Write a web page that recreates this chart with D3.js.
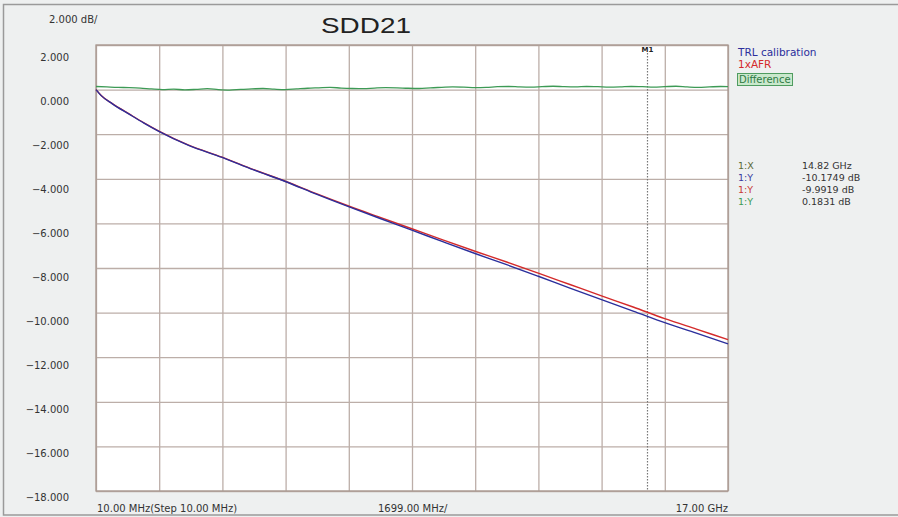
<!DOCTYPE html>
<html>
<head>
<meta charset="utf-8">
<script src="https://cdn.jsdelivr.net/npm/d3@7"></script>
<style>
html,body{margin:0;padding:0;background:#eef0f0;}
svg{display:block;}
</style>
</head>
<body>
<svg id="chart" width="898" height="517"></svg>
<script>
// ---------- data ----------
const title = "SDD21";
const scaleLabel = "2.000 dB/";
const yTicks = [2, 0, -2, -4, -6, -8, -10, -12, -14, -16, -18];
const xStartLabel = "10.00 MHz(Step 10.00 MHz)";
const xMidLabel = "1699.00 MHz/";
const xEndLabel = "17.00 GHz";
const xDomainGHz = [0.01, 17.0];
const seriesNames = ["TRL calibration", "1xAFR", "Difference"];

// frequency (GHz) for the two main traces
const freqMain = [0.01, 0.15, 0.45, 0.9, 1.3, 1.7, 2.5, 3.4, 4.25, 5.1, 5.95, 6.8, 7.65, 8.5, 9.35, 10.2, 11.05, 11.9, 12.75, 13.6, 14.45, 15.3, 16.15, 17.0];
const trlValues = [0, -0.27, -0.64, -1.1, -1.5, -1.87, -2.5, -3.04, -3.6, -4.12, -4.7, -5.25, -5.78, -6.3, -6.83, -7.35, -7.85, -8.37, -8.9, -9.42, -9.93, -10.45, -10.92, -11.4];
const afrValues = [0, -0.26, -0.63, -1.09, -1.49, -1.86, -2.49, -3.03, -3.59, -4.11, -4.68, -5.22, -5.73, -6.24, -6.75, -7.25, -7.73, -8.23, -8.74, -9.25, -9.75, -10.27, -10.74, -11.21];

// difference trace
const freqDiff = [0.01, 0.3, 0.6, 0.9, 1.2, 1.5, 1.8, 2.1, 2.4, 2.7, 3.0, 3.3, 3.6, 3.9, 4.2, 4.5, 4.8, 5.1, 5.4, 5.7, 6.0, 6.3, 6.6, 6.9, 7.2, 7.5, 7.8, 8.1, 8.4, 8.7, 9.0, 9.3, 9.6, 9.9, 10.2, 10.5, 10.8, 11.1, 11.4, 11.7, 12.0, 12.3, 12.6, 12.9, 13.2, 13.5, 13.8, 14.1, 14.4, 14.7, 15.0, 15.3, 15.6, 15.9, 16.2, 16.5, 16.8, 17.0];
const diffValues = [0.14, 0.12, 0.10, 0.09, 0.07, 0.03, 0.00, 0.02, -0.01, 0.01,
                    0.04, 0.00, -0.02, 0.01, 0.03, 0.05, 0.02, 0.00, 0.03, 0.06,
                    0.08, 0.10, 0.07, 0.05, 0.04, 0.07, 0.09, 0.08, 0.06, 0.05,
                    0.08, 0.10, 0.12, 0.11, 0.09, 0.10, 0.13, 0.14, 0.12, 0.11,
                    0.13, 0.15, 0.13, 0.12, 0.14, 0.13, 0.11, 0.12, 0.14, 0.13,
                    0.11, 0.13, 0.15, 0.12, 0.10, 0.12, 0.14, 0.13];

// marker
const markerName = "M1";
const markerFreq = 14.82;
const markerRows = [
  {label: "1:X", value: "14.82 GHz"},
  {label: "1:Y", value: "-10.1749 dB"},
  {label: "1:Y", value: "-9.9919 dB"},
  {label: "1:Y", value: "0.1831 dB"}
];

// ---------- layout ----------
const svg = d3.select("#chart");
const L = 96, R = 728, T = 45, B = 491;
const colors = {trl: "#2b2f9c", afr: "#d42a2a", diff: "#3d9a55"};
const rowColors = ["#5a6a3a", "#3a3aa0", "#c83838", "#3d9a55"];
const small = "DejaVu Sans, sans-serif";

svg.append("rect").attr("x", 0).attr("y", 0).attr("width", 898).attr("height", 517).attr("fill", "#eef0f0");
svg.append("rect").attr("x", 3.5).attr("y", 4.5).attr("width", 900).attr("height", 510.5)
  .attr("fill", "none").attr("stroke", "#9a9a9a").attr("stroke-width", 1.5);

const x = d3.scaleLinear().domain(xDomainGHz).range([L, R]);
const y = d3.scaleLinear().domain([2, -18]).range([T, B]);
const yLab = d3.scaleLinear().domain([2, -18]).range([57, 497]);

// plot area
svg.append("rect").attr("x", L).attr("y", T).attr("width", R - L).attr("height", B - T).attr("fill", "#ffffff");

// grid via axes
const xGridTicks = d3.range(0, 11).map(i => xDomainGHz[0] + i * (xDomainGHz[1] - xDomainGHz[0]) / 10);
svg.append("g").attr("transform", `translate(0,${T})`)
  .call(d3.axisBottom(x).tickValues(xGridTicks).tickSize(B - T).tickFormat(""))
  .call(g => g.select(".domain").remove())
  .call(g => g.selectAll("line").attr("stroke", "#bcaea8").attr("stroke-width", 1.3));
svg.append("g").attr("transform", `translate(${L},0)`)
  .call(d3.axisRight(y).tickValues(yTicks).tickSize(R - L).tickFormat(""))
  .call(g => g.select(".domain").remove())
  .call(g => g.selectAll("line").attr("stroke", "#bcaea8").attr("stroke-width", 1.3));
svg.append("rect").attr("x", L).attr("y", T).attr("width", R - L).attr("height", B - T)
  .attr("fill", "none").attr("stroke", "#a8978f").attr("stroke-width", 1.3);

// y labels
svg.append("g").selectAll("text").data(yTicks).join("text")
  .attr("x", 69).attr("y", d => yLab(d)).attr("dy", "0.35em")
  .attr("text-anchor", "end").attr("font-family", small).attr("font-size", 10).attr("fill", "#333")
  .text(d => d3.format(".3f")(d));

// header
svg.append("text").attr("x", 49).attr("y", 23).attr("font-family", small).attr("font-size", 10).attr("fill", "#333").text(scaleLabel);
svg.append("text").attr("x", 321).attr("y", 33).attr("font-family", "Liberation Sans, Arial, sans-serif")
  .attr("font-size", 22).attr("textLength", 90).attr("lengthAdjust", "spacingAndGlyphs").attr("fill", "#222").text(title);

// bottom labels
svg.append("text").attr("x", 97).attr("y", 512).attr("font-family", small).attr("font-size", 10).attr("fill", "#333").text(xStartLabel);
svg.append("text").attr("x", 378).attr("y", 512).attr("font-family", small).attr("font-size", 10).attr("fill", "#333").text(xMidLabel);
svg.append("text").attr("x", R).attr("y", 512).attr("text-anchor", "end").attr("font-family", small).attr("font-size", 10).attr("fill", "#333").text(xEndLabel);

// marker line
const mx = Math.round(x(markerFreq)) + 0.5;
svg.append("line").attr("x1", mx).attr("x2", mx).attr("y1", T + 8).attr("y2", B)
  .attr("stroke", "#777").attr("stroke-width", 1.2).attr("stroke-dasharray", "1.5,1.5");
svg.append("text").attr("x", mx).attr("y", 52).attr("text-anchor", "middle")
  .attr("font-family", small).attr("font-size", 7).attr("font-weight", "bold").attr("fill", "#222").text(markerName);

// traces
const line = d3.line().x(d => x(d[0])).y(d => y(d[1])).curve(d3.curveMonotoneX);
const diffData = d3.zip(freqDiff, diffValues);
const trlData = d3.zip(freqMain, trlValues);
const afrData = d3.zip(freqMain, afrValues);
svg.append("path").datum(diffData).attr("d", line).attr("fill", "none").attr("stroke", colors.diff).attr("stroke-width", 1.3);
svg.append("path").datum(afrData).attr("d", line).attr("fill", "none").attr("stroke", colors.afr).attr("stroke-width", 1.4);
svg.append("path").datum(trlData).attr("d", line).attr("fill", "none").attr("stroke", colors.trl).attr("stroke-width", 1.4);

// legend
const legX = 738;
svg.append("text").attr("x", legX).attr("y", 56).attr("font-family", small).attr("font-size", 10.5).attr("fill", colors.trl).text(seriesNames[0]);
svg.append("text").attr("x", legX).attr("y", 68).attr("font-family", small).attr("font-size", 10.5).attr("fill", colors.afr).text(seriesNames[1]);
svg.append("rect").attr("x", legX - 0.5).attr("y", 73.5).attr("width", 55).attr("height", 12).attr("fill", "#c9e8cc").attr("stroke", "#4f9c60");
svg.append("text").attr("x", legX + 1).attr("y", 83).attr("font-family", small).attr("font-size", 10).attr("fill", "#2f7a45").text(seriesNames[2]);

// marker readout
const rows = svg.append("g").selectAll("g").data(markerRows).join("g")
  .attr("transform", (d, i) => `translate(0,${169 + i * 12})`);
rows.append("text").attr("x", legX).attr("font-family", small).attr("font-size", 9.5).attr("fill", (d, i) => rowColors[i]).text(d => d.label);
rows.append("text").attr("x", 802).attr("font-family", small).attr("font-size", 9.5).attr("fill", "#333").text(d => d.value);
</script>
</body>
</html>
